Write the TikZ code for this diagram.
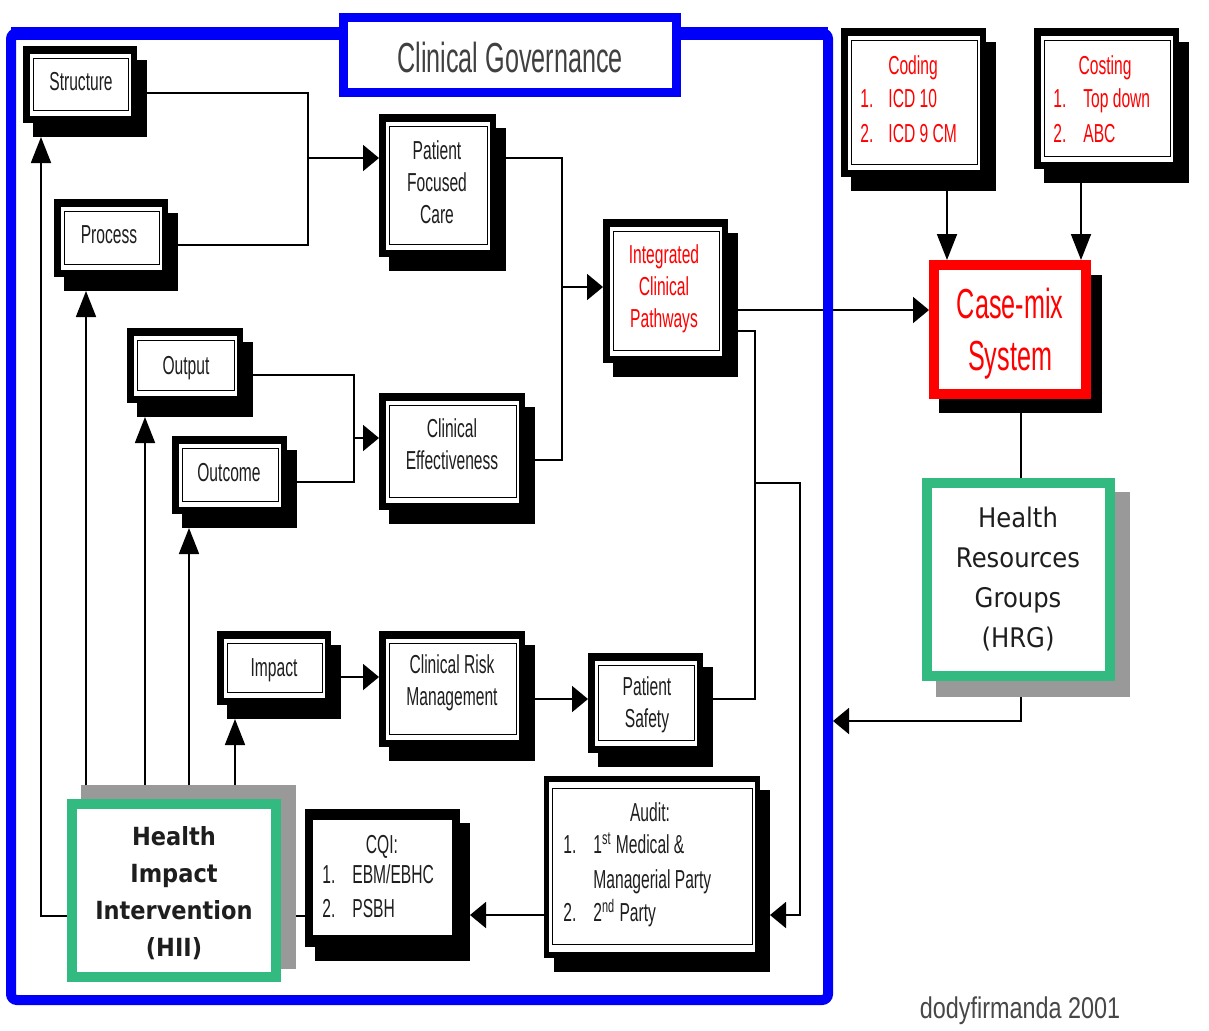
\documentclass[tikz,border=0pt]{standalone}
\usepackage{fontspec}
\setmainfont{Liberation Sans}
\newfontfamily\narrowsf[FakeStretch=0.6]{Liberation Sans}
\newfontfamily\signfont[FakeStretch=0.78]{Liberation Sans}
\newfontfamily\handfont[FakeStretch=0.9]{DejaVu Sans}
\usetikzlibrary{arrows.meta,fit}

\definecolor{cgblue}{RGB}{0,0,250}
\definecolor{cgred}{RGB}{255,0,0}
\definecolor{cggreen}{RGB}{50,186,128}
\definecolor{cgshade}{RGB}{153,153,153}
\definecolor{ink}{RGB}{30,30,30}

\tikzset{
  conn/.style={line width=0.9pt, draw=black},
  harr/.style={conn, -{Triangle[length=8pt,width=13pt]}},
  varr/.style={conn, -{Triangle[length=13pt,width=10pt]}},
  area/.style={inner sep=0pt, outer sep=0pt},
  boxtext/.style={text=ink, font=\narrowsf\fontsize{13}{16}\selectfont, align=center, inner sep=0pt},
  oneline/.style={boxtext, text height=9.3pt, text depth=0pt},
  listtext/.style={text=ink, font=\narrowsf\fontsize{13}{16}\selectfont, anchor=west,
                   inner sep=0pt, text height=9.3pt, text depth=0pt},
  handtext/.style={text=ink, font=\handfont\fontsize{13.5}{20}\selectfont, align=center, inner sep=0pt},
}

% black framed box with drop shadow and inner rule; the named area spans box and shadow
\newcommand\shadebox[5]{%
  \fill[black] (#2+10,#3+14) rectangle (#4+10,#5+14);
  \fill[black] (#2,#3) rectangle (#4,#5);
  \fill[white] (#2+7,#3+8) rectangle (#4-6,#5-7);
  \draw[line width=0.5pt] (#2+10,#3+12) rectangle (#4-9,#5-13);
  \node[area, fit={(#2,#3) (#4+10,#5+14)}] (#1) {};%
}

\begin{document}
\begin{tikzpicture}[x=0.5pt,y=-0.5pt]
\useasboundingbox (0,0) rectangle (1209,1030);

% ---------- boxes inside the governance frame ----------
\shadebox{structure}{23}{46}{137}{123}
\node[oneline] (t-structure) at (81,81) {Structure};
\shadebox{process}{54}{199}{168}{277}
\node[oneline] (t-process) at (109,234) {Process};
\shadebox{pfc}{379}{114}{496}{257}
\node[boxtext] (t-pfc) at (437,182) {Patient\\Focused\\Care};
\shadebox{icp}{603}{219}{728}{363}
\node[boxtext, text=cgred] (t-icp) at (664,289) {Integrated\\Clinical\\Pathways};
\shadebox{output}{127}{328}{243}{403}
\node[oneline] (t-output) at (186,365) {Output};
\shadebox{outcome}{172}{436}{287}{514}
\node[oneline] (t-outcome) at (229,472) {Outcome};
\shadebox{ce}{379}{393}{525}{510}
\node[boxtext] (t-ce) at (452,444) {Clinical\\Effectiveness};
\shadebox{impact}{217}{631}{331}{705}
\node[oneline] (t-impact) at (274,667) {Impact};
\shadebox{crm}{379}{631}{525}{747}
\node[boxtext] (t-crm) at (452,683) {Clinical Risk\\Management};
\shadebox{safety}{588}{653}{703}{753}
\node[boxtext] (t-safety) at (647,705) {Patient\\Safety};

% CQI box (single frame)
\fill[black] (315,823) rectangle (470,961);
\fill[black] (305,809) rectangle (460,947);
\fill[white] (313,820) rectangle (452,935);
\node[area, fit={(305,809) (470,961)}] (cqi) {};
\node[oneline] (t-cqi) at (382,844) {CQI:};
\node[listtext] (t-cqi1n) at (322,874) {1.};
\node[listtext] (t-cqi1) at (352,874) {EBM/EBHC};
\node[listtext] (t-cqi2n) at (322,908) {2.};
\node[listtext] (t-cqi2) at (352,908) {PSBH};

% Audit box
\fill[black] (554,790) rectangle (770,972);
\fill[black] (544,776) rectangle (760,958);
\fill[white] (549,782) rectangle (755,952);
\draw[line width=0.5pt] (552,788) rectangle (752,944);
\node[area, fit={(544,776) (770,972)}] (audit) {};
\node[oneline] (t-audit) at (650,812) {Audit:};
\node[listtext] (t-audit1n) at (563,844) {1.};
\node[listtext] (t-audit1) at (593,844) {1\textsuperscript{st} Medical \&};
\node[listtext] (t-audit1b) at (593,879) {Managerial Party};
\node[listtext] (t-audit2n) at (563,912) {2.};
\node[listtext] (t-audit2) at (593,912) {2\textsuperscript{nd} Party};

% Health Impact Intervention
\fill[cgshade] (81,785) rectangle (296,969);
\draw[cggreen, line width=5pt, fill=white] (72,804) rectangle (276,977);
\node[area, fit={(67,785) (296,982)}] (hii) {};
\node[handtext, font=\handfont\bfseries\fontsize{12.5}{18.5}\selectfont] (t-hii) at (174,893)
  {Health\\Impact\\Intervention\\(HII)};

% ---------- boxes outside the frame ----------
\shadebox{coding}{841}{28}{986}{177}
\node[oneline, text=cgred] (t-coding) at (913,65) {Coding};
\node[listtext, text=cgred] (t-coding1n) at (860,98) {1.};
\node[listtext, text=cgred] (t-coding1) at (888,98) {ICD 10};
\node[listtext, text=cgred] (t-coding2n) at (860,133) {2.};
\node[listtext, text=cgred] (t-coding2) at (888,133) {ICD 9 CM};

\shadebox{costing}{1034}{28}{1179}{169}
\node[oneline, text=cgred] (t-costing) at (1105,65) {Costing};
\node[listtext, text=cgred] (t-costing1n) at (1053,98) {1.};
\node[listtext, text=cgred] (t-costing1) at (1083,98) {Top down};
\node[listtext, text=cgred] (t-costing2n) at (1053,133) {2.};
\node[listtext, text=cgred] (t-costing2) at (1083,133) {ABC};

% Case-mix system
\fill[black] (939,275) rectangle (1102,413);
\draw[cgred, line width=5pt, fill=white] (934,265) rectangle (1086,394);
\node[area, fit={(929,260) (1102,413)}] (casemix) {};
\node[text=cgred, font=\narrowsf\fontsize{21}{26}\selectfont, align=center, inner sep=0pt]
  (t-casemix) at (1010,334) {Case-mix\\System};

% Health Resources Groups
\fill[cgshade] (936,492) rectangle (1130,697);
\draw[cggreen, line width=5pt, fill=white] (927,483) rectangle (1110,676);
\node[area, fit={(922,478) (1130,697)}] (hrg) {};
\node[handtext] (t-hrg) at (1018,579) {Health\\Resources\\Groups\\(HRG)};

% ---------- connectors ----------
\coordinate (jA) at (308,158);
\draw[conn] (structure.east |- 0,93) -| (jA);
\draw[conn] (process.east |- 0,245) -| (jA);
\draw[harr] (jA) -- (pfc.west |- jA);

\coordinate (jB) at (562,287);
\draw[conn] (pfc.east |- 0,158) -| (jB);
\draw[conn] (ce.east |- 0,460) -| (jB);
\draw[harr] (jB) -- (icp.west |- jB);

\coordinate (jC) at (354,438);
\draw[conn] (output.east |- 0,375) -| (jC);
\draw[conn] (outcome.east |- 0,482) -| (jC);
\draw[harr] (jC) -- (ce.west |- jC);

\draw[harr] (icp.east |- 0,310) -- (casemix.west |- 0,310);

\coordinate (jD) at (755,483);
\coordinate (jE) at (800,915);
\draw[conn] (icp.east |- 0,331) -| (jD) |- (safety.east |- 0,699);
\draw[harr] (jD) -| (jE) -- (audit.east |- jE);

\draw[harr] (audit.west |- 0,915) -- (cqi.east |- 0,915);
\draw[conn] (cqi.west |- 0,916) -- (hii.east |- 0,916);
\draw[varr] (hii.west |- 0,916) -| (41,0 |- structure.south);
\draw[varr] (86,0 |- hii.north) -- (86,0 |- process.south);
\draw[varr] (145,0 |- hii.north) -- (145,0 |- output.south);
\draw[varr] (189,0 |- hii.north) -- (189,0 |- outcome.south);
\draw[varr] (235,0 |- hii.north) -- (235,0 |- impact.south);
\draw[harr] (impact.east |- 0,677) -- (crm.west |- 0,677);
\draw[harr] (crm.east |- 0,699) -- (safety.west |- 0,699);

\draw[varr] (947,0 |- coding.south) -- (947,0 |- casemix.north);
\draw[varr] (1081,0 |- costing.south) -- (1081,0 |- casemix.north);
\draw[conn] (1021,0 |- casemix.south) -- (1021,0 |- hrg.north);
\coordinate (frameIn) at (833,721);
\draw[harr] (1021,0 |- hrg.south) |- (frameIn);

% ---------- clinical governance frame and title ----------
\draw[cgblue, line width=5pt, rounded corners=3pt] (11,33) rectangle (828,1000);
\draw[cgblue, line width=6.5pt] (11,33.5) -- (828,33.5);
\draw[cgblue, line width=4.5pt, fill=white] (343.5,17) rectangle (676.5,92.5);
\node[text=black!75, font=\narrowsf\fontsize{21}{25}\selectfont, inner sep=0pt]
  (t-title) at (510,57) {Clinical Governance};

% signature
\node[text=black!72, font=\signfont\fontsize{15}{18}\selectfont, inner sep=0pt]
  (t-sign) at (1020,1011) {dodyfirmanda 2001};
\end{tikzpicture}
\end{document}
